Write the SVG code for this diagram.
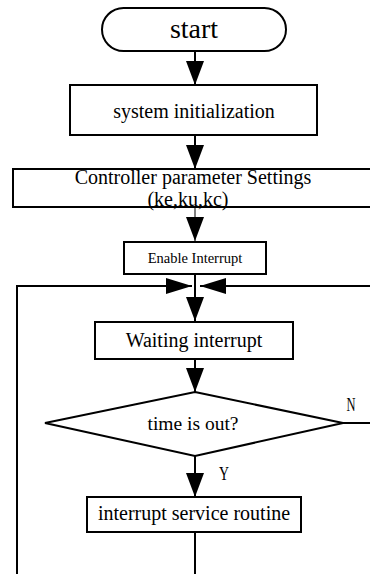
<svg xmlns="http://www.w3.org/2000/svg" width="370" height="574" viewBox="0 0 370 574">
<style>
.box{fill:#fff;stroke:#000;stroke-width:2}
.ln{fill:none;stroke:#000;stroke-width:2}
text{fill:#000;text-anchor:middle}
</style>
<defs>
<marker id="ah" viewBox="0 0 24 18" refX="24" refY="9" markerWidth="24" markerHeight="18" markerUnits="userSpaceOnUse" orient="auto">
<path d="M0,0 L24,9 L0,18 z" fill="#000"/>
</marker>
<marker id="ahs" viewBox="0 0 26 16" refX="26" refY="8" markerWidth="26" markerHeight="16" markerUnits="userSpaceOnUse" orient="auto">
<path d="M0,0 L26,8 L0,16 z" fill="#000"/>
</marker>
</defs>
<rect width="370" height="574" fill="#fff"/>
<g font-family="Liberation Serif, Times New Roman, DejaVu Serif, serif">
<g id="connectors">
<path class="ln" d="M195,51 V85" marker-end="url(#ah)"/>
<path class="ln" d="M195,135 V169" marker-end="url(#ah)"/>
<path class="ln" d="M195,207 V241" style="stroke-width:1" marker-end="url(#ah)"/>
<path class="ln" d="M195,274 V321" marker-end="url(#ah)"/>
<path class="ln" d="M17,574 V286 H192" marker-end="url(#ahs)"/>
<path class="ln" d="M343,423 H374 V286 H200" marker-end="url(#ahs)"/>
<path class="ln" d="M195,359 V392" marker-end="url(#ah)"/>
<path class="ln" d="M195,456 V497" marker-end="url(#ah)"/>
<path class="ln" d="M195,532 V576"/>
<text x="351" y="411" font-size="19" textLength="9" lengthAdjust="spacingAndGlyphs">N</text>
<text x="224" y="480" font-size="19" textLength="10" lengthAdjust="spacingAndGlyphs">Y</text>
</g>
<g id="start">
<rect class="box" x="102" y="8" width="184" height="43" rx="21.5" ry="21.5"/>
<text x="194" y="38" font-size="28">start</text>
</g>
<g id="sysinit">
<rect class="box" x="70" y="85" width="247" height="50"/>
<text x="194" y="118" font-size="20">system initialization</text>
</g>
<g id="controller">
<rect class="box" x="13" y="169" width="362" height="38"/>
<text x="193" y="184" font-size="20">Controller parameter Settings</text>
<text x="188" y="206" font-size="20">(ke,ku,kc)</text>
</g>
<g id="enable">
<rect class="box" x="124" y="242" width="142" height="32"/>
<text x="195" y="263" font-size="14.5">Enable Interrupt</text>
</g>
<g id="waiting">
<rect class="box" x="95" y="322" width="198" height="37"/>
<text x="194" y="347" font-size="20">Waiting interrupt</text>
</g>
<g id="decision">
<polygon class="box" points="195,392 343,423 195,456 45,423"/>
<text x="193" y="430" font-size="19.5">time is out?</text>
</g>
<g id="isr">
<rect class="box" x="87" y="497" width="214" height="35"/>
<text x="194" y="520" font-size="20">interrupt service routine</text>
</g>
</g>
</svg>
